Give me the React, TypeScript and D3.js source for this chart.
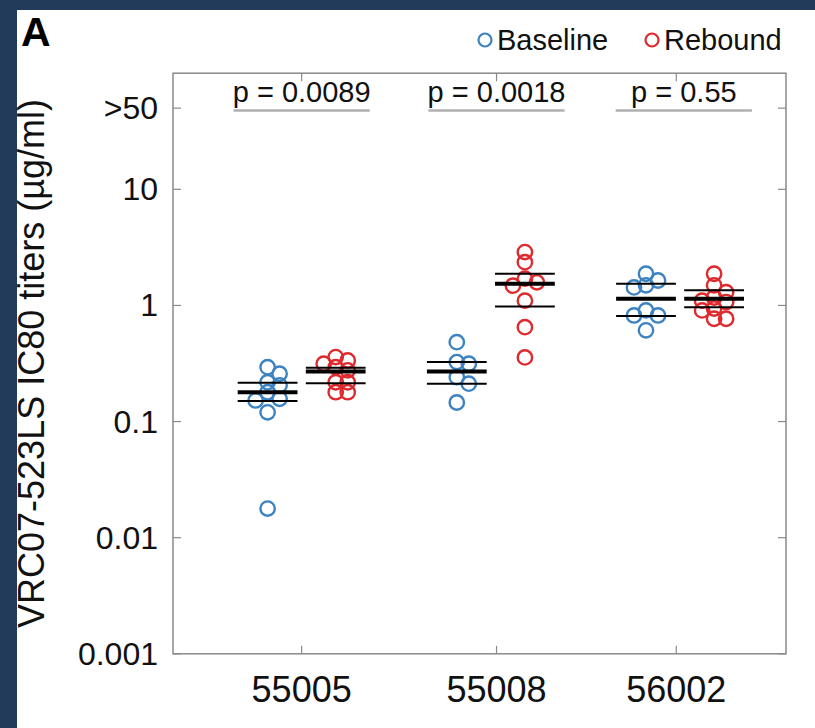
import React from 'react';
import * as d3 from 'd3';

const groups = ['55005', '55008', '56002'];
const groupPos = [1, 2, 3];
const tickPos = [1, 2.03, 2.98];
const pLinePos = [1, 2.03, 3.02];
const pLabels = ['p = 0.0089', 'p = 0.0018', 'p = 0.55'];

const baselineValues = [
  [0.294, 0.258, 0.218, 0.205, 0.179, 0.157, 0.152, 0.12, 0.0178],
  [0.483, 0.325, 0.315, 0.241, 0.212, 0.146],
  [1.875, 1.64, 1.49, 1.43, 0.906, 0.82, 0.82, 0.61],
];
const reboundValues = [
  [0.359, 0.336, 0.315, 0.294, 0.276, 0.218, 0.218, 0.179, 0.179],
  [2.88, 2.36, 1.7, 1.58, 1.48, 1.1, 0.65, 0.357],
  [1.875, 1.49, 1.3, 1.17, 1.1, 1.07, 0.94, 0.906, 0.768, 0.768],
];
const baselineMean = [0.179, 0.27, 1.14];
const baselineUpper = [0.216, 0.325, 1.537];
const baselineLower = [0.15, 0.212, 0.81];
const reboundMean = [0.27, 1.537, 1.14];
const reboundUpper = [0.29, 1.875, 1.35];
const reboundLower = [0.214, 0.98, 0.967];

const yTickValues = [0.001, 0.01, 0.1, 1, 10, 50];
const yTickLabels = ['0.001', '0.01', '0.1', '1', '10', '>50'];

const BLUE = '#3d82c1';
const RED = '#de2a2e';
const NAVY = '#233b5b';
const AXIS = '#8a8a8a';
const FONT = '"Liberation Sans", Arial, Helvetica, sans-serif';

const W = 815;
const H = 728;
const L = 173, R = 786, T = 73.2, B = 653.8;

const x = d3.scaleLinear().domain([0.32, 3.56]).range([L, R]);
const y = d3.scaleLog().domain([0.001, 100]).range([B, T]);

const SERIES_OFF = 0.18;
const HALF = 0.158;

function swarm(values: number[], step = 12, minDist = 9.5) {
  const idx = values.map((_, i) => i).sort((a, b) => y(values[a]) - y(values[b]));
  const placed: { o: number; py: number }[] = [];
  const offs = new Array(values.length).fill(0);
  for (const i of idx) {
    const py = y(values[i]);
    const ks = [0, 1, -1, 2, -2, 3, -3, 4, -4];
    for (const k of ks) {
      const o = k * step;
      if (placed.every((p) => Math.hypot(o - p.o, py - p.py) >= minDist)) {
        offs[i] = o;
        placed.push({ o, py });
        break;
      }
    }
  }
  return offs;
}

function Series({ vals, mean, up, lo, gi, off, color }: any) {
  const cx = x(groupPos[gi] + off);
  const offs = swarm(vals);
  const hw = x(HALF) - x(0);
  return (
    <g>
      {vals.map((v: number, i: number) => (
        <circle key={i} cx={cx + offs[i]} cy={y(v)} r={7.2} fill="none" stroke={color} strokeWidth={2.4} />
      ))}
      <line x1={cx - hw} x2={cx + hw} y1={y(up)} y2={y(up)} stroke="#000" strokeWidth={2} />
      <line x1={cx - hw} x2={cx + hw} y1={y(lo)} y2={y(lo)} stroke="#000" strokeWidth={2} />
      <line x1={cx - hw} x2={cx + hw} y1={y(mean)} y2={y(mean)} stroke="#000" strokeWidth={4} />
    </g>
  );
}

export default function App() {
  const pHalf = x(0.36) - x(0);
  return (
    <svg width={W} height={H} style={{ position: 'absolute', left: 0, top: 0, display: 'block' }} fontFamily={FONT}>
      <rect x={0} y={0} width={W} height={H} fill={NAVY} />
      <rect x={17} y={10} width={W - 17} height={H - 10} fill="#fff" />

      <text x={21} y={46} fontSize={41} fontWeight="bold" fill="#000">A</text>

      {/* legend */}
      <circle cx={485} cy={40} r={6.5} fill="none" stroke={BLUE} strokeWidth={2.2} />
      <text x={497} y={50} fontSize={29} fill="#111">Baseline</text>
      <circle cx={652} cy={40} r={6.5} fill="none" stroke={RED} strokeWidth={2.2} />
      <text x={664} y={50} fontSize={29} fill="#111">Rebound</text>

      {/* axes box */}
      <rect x={L} y={T} width={R - L} height={B - T} fill="none" stroke={AXIS} strokeWidth={1.5} />
      {yTickValues.map((v, i) => (
        <g key={i}>
          <line x1={L} x2={L + 8} y1={y(v)} y2={y(v)} stroke={AXIS} strokeWidth={1.2} />
          <line x1={R} x2={R - 8} y1={y(v)} y2={y(v)} stroke={AXIS} strokeWidth={1.2} />
          <text x={158} y={y(v)} fontSize={32} textAnchor="end" dominantBaseline="central" fill="#111">
            {yTickLabels[i]}
          </text>
        </g>
      ))}
      {tickPos.map((p, i) => (
        <g key={i}>
          <line x1={x(p)} x2={x(p)} y1={B} y2={B - 8} stroke={AXIS} strokeWidth={1.2} />
          <line x1={x(p)} x2={x(p)} y1={T} y2={T + 8} stroke={AXIS} strokeWidth={1.2} />
          <text x={x(p)} y={701.5} fontSize={36} textAnchor="middle" fill="#111">{groups[i]}</text>
        </g>
      ))}

      {/* p-values */}
      {pLinePos.map((p, i) => (
        <g key={i}>
          <text x={x(p)} y={101.5} fontSize={29} textAnchor="middle" fill="#111">{pLabels[i]}</text>
          <line x1={x(p) - pHalf} x2={x(p) + pHalf} y1={110.5} y2={110.5} stroke="#b0b0b0" strokeWidth={2.5} />
        </g>
      ))}

      {groups.map((g, gi) => (
        <g key={g}>
          <Series vals={baselineValues[gi]} mean={baselineMean[gi]} up={baselineUpper[gi]} lo={baselineLower[gi]} gi={gi} off={-SERIES_OFF} color={BLUE} />
          <Series vals={reboundValues[gi]} mean={reboundMean[gi]} up={reboundUpper[gi]} lo={reboundLower[gi]} gi={gi} off={SERIES_OFF} color={RED} />
        </g>
      ))}

      <text transform={`translate(44, ${(T + B) / 2}) rotate(-90)`} fontSize={36} textAnchor="middle" fill="#111">
        VRC07-523LS IC80 titers (µg/ml)
      </text>
    </svg>
  );
}
